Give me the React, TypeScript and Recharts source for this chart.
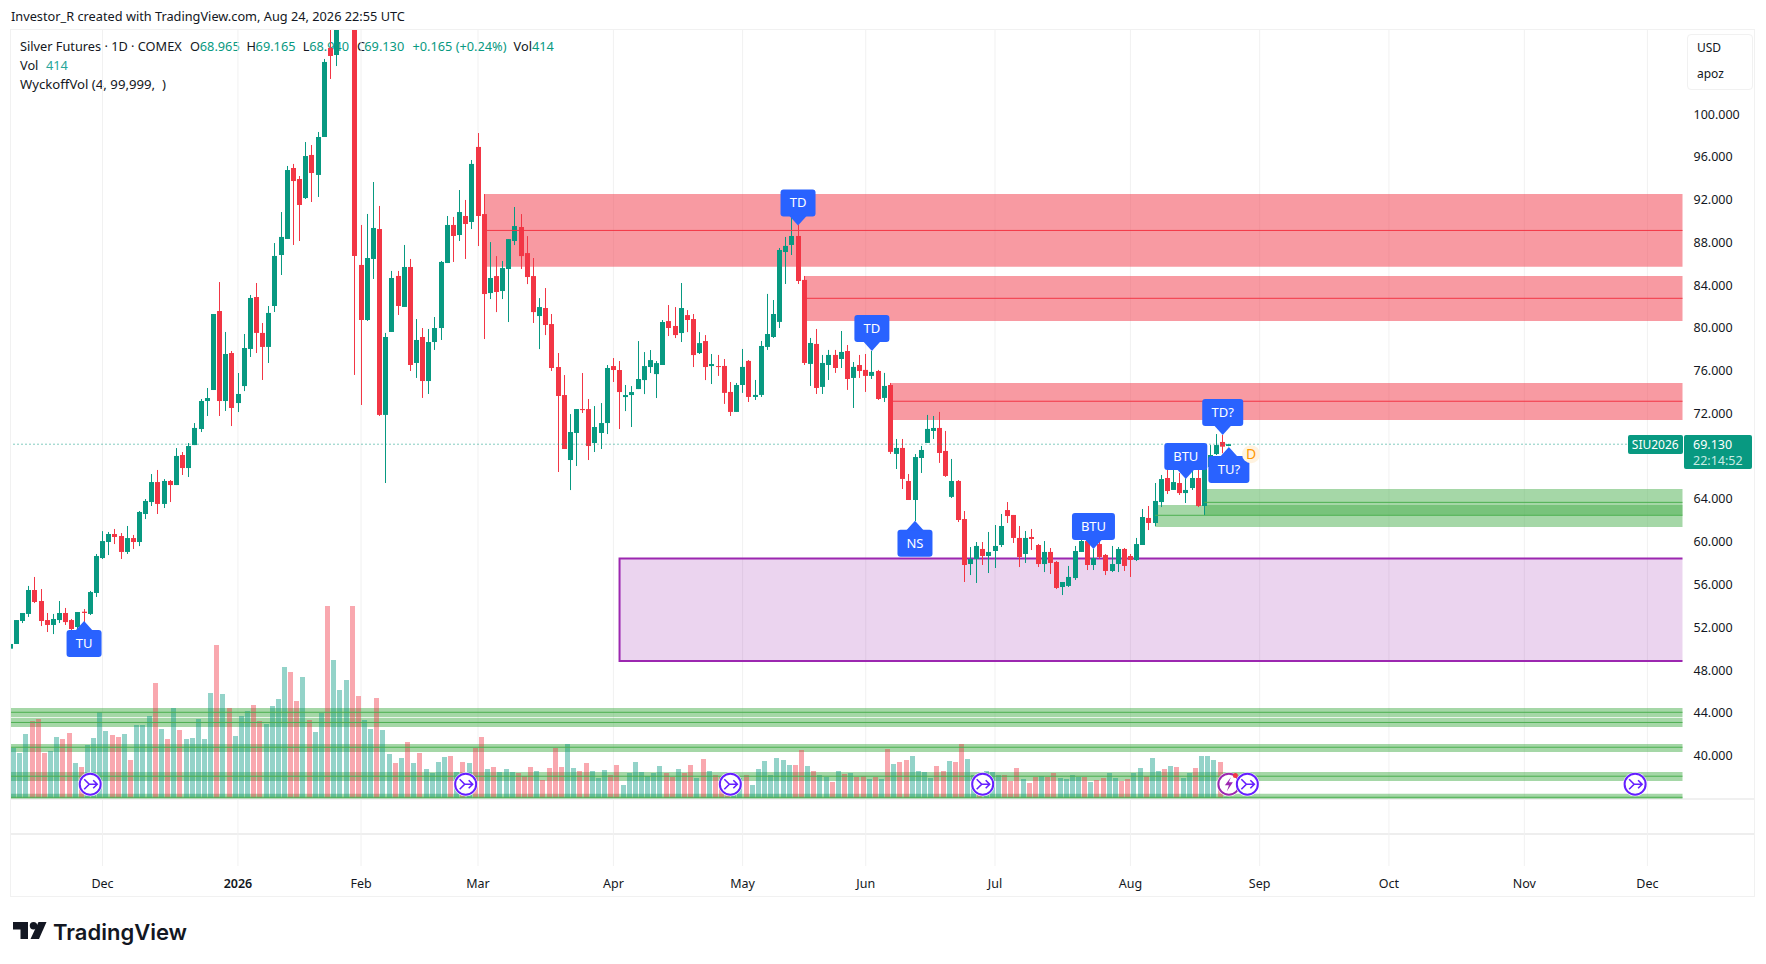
import React from "react";
import { ComposedChart, Bar, XAxis, YAxis, CartesianGrid, ReferenceArea, ReferenceLine, ReferenceDot } from "recharts";

// Daily OHLC, in chart order (index = trading session)
const opens = [50,50.44,52.59,53.25,55.49,54.46,52.68,52.22,52.68,53.34,52.68,52.03,53.46,53.25,55.21,58.48,59.98,60.73,60.54,59.05,60.35,59.98,62.6,63.72,65.59,63.54,65.69,65.31,68.12,66.9,69.05,70.55,73.17,74.2,81.59,73.17,77.66,72.98,74.57,78.04,82.9,79.54,78.23,82.06,86.83,88.33,94.97,93.94,92.16,96.19,94.32,97.87,106.2,105.54,108.5,112,119,85.9,80.75,86.46,89.26,71.87,79.63,84.87,81.97,85.71,76.73,79.16,75.04,78.69,80,86.08,89.64,88.7,90.48,89.92,96.94,90.66,83.27,84.86,83.46,85.52,88.14,89.45,87.01,84.86,81.12,81.87,80.37,76.35,73.73,67.65,70.18,72.42,72.42,69.24,70.18,71.11,76.44,76.07,73.54,73.73,74.29,75.13,76.35,75.69,76.54,80.65,80.19,79.53,81.21,80.84,77.66,78.78,76.44,76.44,76.45,74.02,72.15,74.67,76.92,73.55,73.74,78.23,79.16,80.57,87.11,87.77,88.61,84.5,76.64,78.51,74.49,76.54,77.48,77.1,77.85,75.33,76.54,76.08,75.52,75.98,73.46,74.67,68.22,68.78,65.69,63.91,67.84,69.25,70.37,70.65,68.5,64.2,65.69,62.13,57.92,58.39,59.33,58.67,59.14,59.7,62.97,62.51,60.36,58.86,60.45,59.7,57.92,59.05,58.11,55.77,55.87,56.61,59.05,60.07,57.83,59.79,58.77,57.27,57.92,59.33,58.67,58.3,59.7,62.23,61.76,63.72,65.97,64.85,65.5,64.56,65.03,65.97,63.35,67,68.21,69.34,68.965];
const highs = [50.44,52.68,53.34,55.87,56.71,55.58,53.34,53.25,54.46,53.81,52.78,53.43,53.71,55.4,58.86,61,60.92,61.2,60.82,61.48,60.64,62.88,64,66.34,66.72,65.87,65.78,68.77,68.4,69.24,71.11,73.36,74.39,81.31,84.3,79.63,77.85,75.79,79.44,83.09,84.21,80.47,82.06,87.95,90.85,95.16,95.35,94.22,97.4,97.12,98.34,105.17,108.5,109,113,121,121.5,89.64,90.67,93.66,91.42,79.54,85.34,85.34,87.77,86.46,80.84,80,79.91,81.03,86.27,90.48,90.39,92.91,91.98,95.72,98.24,92.53,88.04,86.73,86.27,88.32,91.32,90.66,88.6,86.55,82.8,83.74,81.31,77.66,75.6,71.95,72.42,75.79,73.36,72.7,72.98,76.54,77.19,76.91,74.67,74.57,78.78,77.75,77.94,76.91,80.75,82.15,81.96,84.21,81.68,81.31,79.62,79.34,77.57,77.48,77.1,74.95,74.86,78.04,77.01,75.14,78.79,83.19,82.62,87.49,88.52,90.58,89.64,84.87,79.07,79.91,77.48,77.95,77.95,79.72,78.41,76.82,77.48,77.57,77.85,76.08,75.8,74.86,69.62,69.62,66.34,68.21,68.97,71.87,71.77,72.15,70.37,67.75,65.78,62.88,59.51,59.98,59.98,60.92,61.57,62.6,63.72,62.51,61.48,61.01,61.2,59.79,60.07,59.42,58.2,56.24,57.74,59.61,61.1,60.82,59.33,60.45,58.86,59.61,59.51,59.42,58.86,60.36,63.07,63.35,65.5,66.25,66.72,67,66.44,65.94,66.81,66.72,67.18,69.05,70.08,70,69.165];
const lows = [50,50.44,52.4,52.97,54.27,52.12,51.56,51.37,52.4,52.22,50.25,51.75,52.5,53.15,54.84,58.39,58.76,59.79,58.39,58.86,59.33,59.6,62.13,63.35,62.6,63.16,63.72,65.31,66.25,66.06,69.05,70.27,71.77,74.2,71.77,72.24,70.83,72.14,74.1,77.29,77.66,75.14,76.73,81.5,84.96,88.33,87.77,88.14,92.07,91.79,92.26,97.87,103.3,104.51,108,111,75.61,72.8,80.66,84.59,71.77,65.5,79.63,81.22,81.97,75.98,75.33,73.46,73.83,77.95,78.88,86.08,86.18,88.14,86.46,89.26,87.67,78.97,82.71,81.49,82.71,80.56,87.76,85.52,84.11,80.47,78.03,79.34,75.98,66.53,68.68,64.84,67.09,72.05,67.65,68.4,68.68,70.08,74.95,70.55,72.23,70.74,74.29,73.82,75.79,73.45,76.54,79.25,79.06,78.69,79.62,76.35,77.57,75.13,74.76,75.52,72.9,71.77,72.15,73.93,73.08,73.27,73.55,77.95,79.07,80,84.12,86.83,84.12,76.54,74.58,73.83,73.83,75.14,75.8,76.26,74.21,72.52,75.33,74.02,75.23,73.27,73.08,68.22,66.81,64.94,63.91,61.94,66.44,69.25,69.62,67.38,66.07,64.1,61.85,56.24,56.89,56.15,57.83,57.08,57.55,59.51,61.76,59.89,57.64,58.02,59.23,57.64,57.17,56.99,55.58,55.02,55.77,56.43,59.05,57.36,57.36,58.39,56.89,57.17,57.17,57.27,56.71,58.2,59.7,61.1,61.48,63.25,64.47,64.85,64.38,63.63,64.85,63.25,62.5,66.9,68.12,68.28,68.94];
const closes = [50.44,52.68,53.34,55.49,54.37,52.59,52.22,52.78,53.34,52.49,51.84,53.43,53.34,55.3,58.67,60.07,60.73,60.45,59.05,60.35,59.98,62.79,63.82,65.59,63.54,65.69,65.31,68.03,66.9,68.96,70.65,73.17,73.45,81.31,73.17,77.57,72.52,73.83,78.13,82.81,79.54,78.23,81.41,86.74,88.52,94.78,93.75,91.51,96.09,94.5,97.87,104.89,105.45,108.5,112,119.5,86.74,80.75,86.55,89.36,71.87,79.16,84.68,82.06,85.71,76.54,78.88,75.04,78.69,80,86.18,89.64,88.61,90.85,89.73,95.35,90.48,83.18,84.68,83.37,85.61,88.32,89.54,86.73,84.77,81.49,81.96,80.28,76.26,73.64,68.68,70.27,72.42,72.32,68.96,70.74,71.11,76.26,76.07,74.01,73.73,74.01,75.23,76.44,77,76.72,80.56,80,79.34,81.87,80.75,77.47,78.59,76.35,76.63,76.36,73.93,72.15,74.67,76.36,73.55,73.74,78.32,79.44,81.31,87.3,87.68,88.61,84.4,76.73,78.6,74.39,76.73,77.48,76.26,77.76,75.23,76.36,75.98,75.52,75.89,73.36,74.58,68.41,68.78,65.88,63.91,67.93,68.59,70.56,70.65,68.31,66.16,65.69,62.04,57.83,58.39,59.61,58.67,59.05,59.61,61.48,62.41,60.36,58.58,60.36,60.26,57.92,59.05,58.02,55.68,56.24,56.71,59.14,60.07,57.83,58.48,58.58,57.27,57.92,59.33,57.74,58.3,59.79,62.32,61.76,63.82,65.87,64.75,65.59,64.56,64.85,65.97,63.35,67.18,68.12,69.05,68.9,69.13];
const volumes = [40,50,45,64,77,79,45,47,61,59,65,35,31,53,60,86,67,63,61,64,38,73,73,82,115,69,59,90,68,59,60,79,59,105,153,104,90,62,82,87,93,77,74,92,99,131,126,97,121,78,66,85,192,138,108,118,192,102,78,69,100,68,44,35,40,56,35,45,29,25,36,41,42,26,36,35,50,61,29,31,26,29,26,25,22,31,27,18,30,50,31,54,30,27,35,27,20,28,23,33,13,25,36,26,22,25,32,25,21,29,25,33,20,39,27,23,21,20,22,20,23,13,29,37,23,40,38,33,33,48,32,27,23,21,16,27,24,25,21,22,19,21,19,49,34,36,38,42,27,26,20,32,27,37,36,54,39,23,20,27,26,23,23,17,30,19,15,21,22,21,25,20,19,23,21,21,16,18,20,25,20,17,19,25,30,22,40,27,29,32,31,20,25,30,42,42,38,36,1];

// Time-axis ticks: session index and label
const timeTickIndex = [15,37,57,76,98,119,139,160,182,203,224,246,266];
const timeTickLabels = ["Dec","2026","Feb","Mar","Apr","May","Jun","Jul","Aug","Sep","Oct","Nov","Dec"];
const priceTicks = [40,44,48,52,56,60,64,72,76,80,84,88,92,96,100];
const priceGrid = [36,40,44,48,52,56,60,64,68,72,76,80,84,88,92,96,100,104];
const lastPrice = 69.13;

// Supply zones [from session, top, bottom, mid]
const redZones = [[77,92.53,85.74,89.13],[129,84.87,80.66,82.78],[143,74.86,71.4,73.15]];
// Demand zones [from session, top, bottom, mid]
const greenZones = [[186,63.44,61.38,62.48],[194,64.94,62.5,63.69],[0.13,44.45,43.62,44.05],[0.13,43.53,42.68,43.1],[0.13,41.09,40.34,40.78],[0.13,38.47,37.63,38.07],[0.13,36.42,35.95,36.1]];
const purpleZone = [99,58.43,48.85];

// Wyckoff markers: label, session, price of the tip, direction
const markerLabels = ["TU","NS","TD","TD","BTU","BTU","TD?","TU?"];
const markerSessions = [12,147,128,140,176,191,197,198];
const markerPrices = [52.6,61.97,89.6,77.85,59.33,65.88,70,68.87];
const markerUp = [true,true,false,false,false,false,false,true];
const eventSessions = [13,74,117,158,264];
const eventPrice = 37.32;

const FONT = "'Noto Sans', sans-serif";
const UP = "#089981";
const DOWN = "#F23645";
const INK = "#131722";
const XMIN = 0.13, XMAX = 271.7;

const rows = opens.map((o, i) => ({ i, open: o, high: highs[i], low: lows[i], close: closes[i], range: [lows[i], highs[i]], volume: volumes[i] }));

const Candle = (p: any) => {
  const { x, y, width, height, payload } = p;
  const span = payload.high - payload.low || 1;
  const up = payload.close >= payload.open;
  const c = up ? UP : DOWN;
  const top = y + ((payload.high - Math.max(payload.open, payload.close)) / span) * height;
  const bot = y + ((payload.high - Math.min(payload.open, payload.close)) / span) * height;
  const cx = Math.round(x + width / 2 - 1.5);
  return (
    <g>
      <rect x={cx} y={y} width={1} height={height} fill={c} />
      <rect x={cx - 2} y={top} width={5} height={Math.max(bot - top, 1)} fill={c} />
    </g>
  );
};

const VolumeBar = (p: any) => {
  const { x, y, width, height, payload } = p;
  const up = payload.close >= payload.open;
  const cx = Math.round(x + width / 2 - 1.5);
  return <rect x={cx - 2} y={y} width={5} height={height} fill={up ? "rgba(8,153,129,0.43)" : "rgba(242,54,69,0.43)"} />;
};

const Marker = (p: any) => {
  const { cx, cy, label, up } = p;
  const w = label === "BTU" ? 43 : label.endsWith("?") ? 41 : 35;
  const boxY = up ? cy + 9 : cy - 36;
  const base = up ? cy + 10 : cy - 10;
  return (
    <g>
      <rect x={cx - w / 2} y={boxY} width={w} height={27} rx={3} fill="#2962FF" />
      <path d={`M${cx} ${cy} L${cx + 9} ${base} L${cx - 9} ${base} Z`} fill="#2962FF" />
      <text x={cx} y={boxY + 18} textAnchor="middle" fontFamily={FONT} fontSize={13} fill="#fff">{label}</text>
    </g>
  );
};

const EventIcon = (p: any) => {
  const { cx, cy } = p;
  return (
    <g>
      <circle cx={cx} cy={cy} r={12} fill="#fff" />
      <circle cx={cx} cy={cy} r={10.5} fill="#fff" stroke="#651FFF" strokeWidth={2} />
      <path d={`M${cx - 6} ${cy - 5} L${cx - 1} ${cy} L${cx - 6} ${cy + 5} M${cx - 1} ${cy} H${cx + 7} M${cx + 3} ${cy - 4} L${cx + 7} ${cy} L${cx + 3} ${cy + 4}`} fill="none" stroke="#651FFF" strokeWidth={1.6} />
    </g>
  );
};

const BoltIcon = (p: any) => {
  const { cx, cy } = p;
  return (
    <g>
      <circle cx={cx} cy={cy} r={12} fill="#fff" />
      <circle cx={cx} cy={cy} r={10.5} fill="#fff" stroke="#9C27B0" strokeWidth={2} />
      <path d={`M${cx + 2} ${cy - 7} L${cx - 4} ${cy + 1} H${cx} L${cx - 2} ${cy + 7} L${cx + 4} ${cy - 2} H${cx} Z`} fill="#9C27B0" />
      <circle cx={cx + 6.5} cy={cy - 8.7} r={2.5} fill={DOWN} />
    </g>
  );
};

const DBadge = (p: any) => (
  <g>
    <circle cx={p.cx} cy={p.cy} r={9} fill="#FFF3E0" />
    <text x={p.cx} y={p.cy + 5} textAnchor="middle" fontFamily={FONT} fontSize={14} fill="#FF9800">D</text>
  </g>
);

const PurpleBox = (p: any) => {
  const { x, y, width, height } = p;
  return (
    <g>
      <rect x={x} y={y} width={width} height={height} fill="rgba(156,39,176,0.2)" />
      <path d={`M${x + width} ${y} H${x} V${y + height} H${x + width}`} fill="none" stroke="#9C27B0" strokeWidth={2} />
    </g>
  );
};

const TimeTick = (p: any) => {
  const label = timeTickLabels[timeTickIndex.indexOf(p.payload.value)];
  return <text x={p.x} y={p.y + 14} textAnchor="middle" fontFamily={FONT} fontSize={12.5} fontWeight={label === "2026" ? 600 : 400} fill={INK}>{label}</text>;
};

const abs = (left: number, top: number, extra: React.CSSProperties = {}): React.CSSProperties => ({ position: "absolute", left, top, whiteSpace: "pre", ...extra });
const T = ({ x, y, c = INK, s = 12.75, children }: any) => <div style={abs(x, y - s * 0.6, { color: c, fontSize: s, lineHeight: `${s * 1.2}px` })}>{children}</div>;

export default function App() {
  return (
    <div style={{ position: "absolute", left: 0, top: 0, width: 1766, height: 964, background: "#fff", fontFamily: FONT, overflow: "hidden" }}>
      <div style={abs(10, 29, { width: 1744.5, height: 868, border: "1.5px solid #f1f1f1", boxSizing: "border-box" })} />
      <div style={abs(11, 798, { width: 1743, height: 1.5, background: "#f0f0f0" })} />
      <div style={abs(11, 833, { width: 1743, height: 1.5, background: "#eeeeee" })} />
      <T x={11} y={16.7}>Investor_R created with TradingView.com, Aug 24, 2026 22:55 UTC</T>
      <T x={20} y={46.7}>Silver Futures · 1D · COMEX</T>
      <T x={190} y={46.7}>O</T><T x={199.8} y={46.7} c={UP}>68.965</T>
      <T x={246.5} y={46.7}>H</T><T x={255.6} y={46.7} c={UP}>69.165</T>
      <T x={302.7} y={46.7}>L</T><T x={309.2} y={46.7} c={UP}>68.940</T>
      <T x={357} y={46.7}>C</T><T x={364.3} y={46.7} c={UP}>69.130</T>
      <T x={412.5} y={46.7} c={UP}>+0.165 (+0.24%)</T>
      <T x={513.6} y={46.7}>Vol</T><T x={532} y={46.7} c={UP}>414</T>
      <T x={20} y={65.7}>Vol</T><T x={46} y={65.7} c="#26A69A">414</T>
      <T x={20} y={84.7} s={13.2}>WyckoffVol (4, 99,999,  )</T>

      <div style={abs(0, 0)}>
        <ComposedChart width={1766} height={964} data={rows} margin={{ top: 30, left: 11, right: 0, bottom: 0 }}>
          <CartesianGrid stroke="#f1f1f1" strokeWidth={1} horizontalValues={priceGrid} verticalValues={timeTickIndex} />
          <XAxis dataKey="i" type="number" domain={[XMIN, XMAX]} allowDataOverflow ticks={timeTickIndex} interval={0} height={98} axisLine={false} tickLine={false} tick={TimeTick} />
          <YAxis yAxisId="price" orientation="right" type="number" domain={[29.67, 107.88]} allowDataOverflow ticks={priceTicks} interval={0} width={83.5} axisLine={false} tickLine={false} tickSize={0} tickMargin={11} tickFormatter={(v: number) => v.toFixed(3)} tick={{ fontFamily: FONT, fontSize: 12.5, fill: INK }} />
          <YAxis yAxisId="vol" hide type="number" domain={[-68, 768]} allowDataOverflow />

          <ReferenceArea yAxisId="price" x1={purpleZone[0]} x2={XMAX} y1={purpleZone[1]} y2={purpleZone[2]} shape={PurpleBox} />
          {redZones.map((z, k) => <ReferenceArea key={`r${k}`} yAxisId="price" x1={z[0]} x2={XMAX} y1={z[1]} y2={z[2]} fill="rgba(242,54,69,0.5)" fillOpacity={1} stroke="none" />)}
          {redZones.map((z, k) => <ReferenceLine key={`rl${k}`} yAxisId="price" segment={[{ x: z[0], y: z[3] }, { x: XMAX, y: z[3] }]} stroke={DOWN} strokeWidth={1} />)}
          {greenZones.map((z, k) => <ReferenceArea key={`g${k}`} yAxisId="price" x1={z[0]} x2={XMAX} y1={z[1]} y2={z[2]} fill="rgba(76,175,80,0.5)" fillOpacity={1} stroke="none" />)}
          {greenZones.map((z, k) => <ReferenceLine key={`gl${k}`} yAxisId="price" segment={[{ x: z[0], y: z[3] }, { x: XMAX, y: z[3] }]} stroke="#4CAF50" strokeWidth={1} />)}

          <Bar yAxisId="vol" dataKey="volume" barSize={4} shape={VolumeBar} isAnimationActive={false} />
          <ReferenceLine yAxisId="price" y={lastPrice} stroke={UP} strokeWidth={1} strokeDasharray="1 3" />
          <Bar yAxisId="price" dataKey="range" barSize={5} shape={Candle} isAnimationActive={false} />

          {eventSessions.map((s, k) => <ReferenceDot key={`e${k}`} yAxisId="price" x={s} y={eventPrice} shape={EventIcon} />)}
          <ReferenceDot yAxisId="price" x={198} y={eventPrice} shape={BoltIcon} />
          <ReferenceDot yAxisId="price" x={201} y={eventPrice} shape={EventIcon} />
          {markerLabels.map((l, k) => <ReferenceDot key={`m${k}`} yAxisId="price" x={markerSessions[k]} y={markerPrices[k]} shape={(p: any) => <Marker {...p} label={l} up={markerUp[k]} />} />)}
          <ReferenceDot yAxisId="price" x={201.6} y={68.2} shape={DBadge} />
        </ComposedChart>
      </div>

      <div style={abs(1686.5, 34, { width: 66, height: 56, border: "1.5px solid #f1f1f1", borderRadius: 4, boxSizing: "border-box", background: "#fff" })} />
      <T x={1697} y={48.6} s={12}>USD</T>
      <T x={1697} y={74} s={12}>apoz</T>
      <div style={abs(1628, 435, { width: 54.5, height: 19, background: UP, borderRadius: 2, color: "#fff", fontSize: 12, lineHeight: "19px", textAlign: "center" })}>SIU2026</div>
      <div style={abs(1684, 435, { width: 67.5, height: 34, background: UP, borderRadius: 2 })} />
      <T x={1693} y={444} c="#fff" s={12.5}>69.130</T>
      <T x={1693} y={460} c="#C9EBE4" s={12.5}>22:14:52</T>

      <svg style={abs(13, 922)} width={34} height={18}>
        <path d="M0 0 H15 V17 H7.5 V7.5 H0 Z" fill="#131722" />
        <circle cx={20.5} cy={3.7} r={3.7} fill="#131722" />
        <path d="M25.5 0 H33.5 L26 17 H17.5 Z" fill="#131722" />
      </svg>
      <div style={abs(53, 917, { fontFamily: "Inter, sans-serif", fontWeight: 600, fontSize: 22, lineHeight: "30px", color: "#131722" })}>TradingView</div>
    </div>
  );
}
